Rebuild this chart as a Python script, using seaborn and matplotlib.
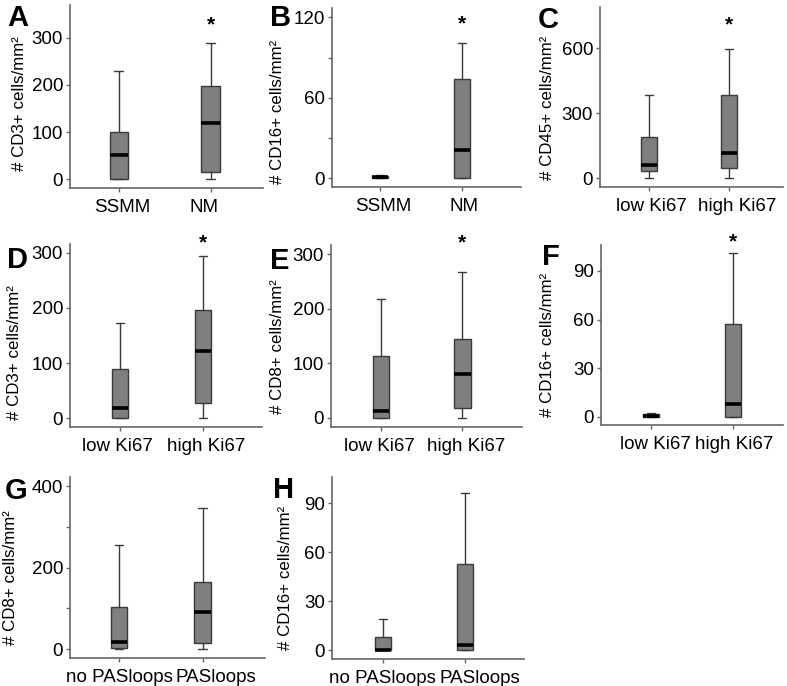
import pandas as pd
import seaborn as sns
import matplotlib.pyplot as plt
from matplotlib.transforms import ScaledTranslation

OUTPUT_PNG = "out.png"

# five-number summaries per group: min, q1, median, q3, max
GROUPS_NM = ["SSMM", "NM"]
GROUPS_KI = ["low Ki67", "high Ki67"]
GROUPS_PAS = ["no PASloops", "PASloops"]

A_SSMM = [0, 0, 52, 100, 230]
A_NM = [0, 16, 120, 197, 290]
B_SSMM = [0, 0, 0.5, 1.5, 2.5]
B_NM = [0, 0, 21, 74, 101]
C_LOW = [0, 31, 61, 190, 385]
C_HIGH = [0, 49, 115, 382, 594]
D_LOW = [0, 0, 19, 90, 173]
D_HIGH = [0, 28, 121, 196, 294]
E_LOW = [0, 0, 12, 114, 218]
E_HIGH = [0, 19, 80, 144, 267]
F_LOW = [0, 0, 0.5, 1.5, 2.5]
F_HIGH = [0, 0, 7.6, 57, 101]
G_LOW = [0, 2, 17, 103, 255]
G_HIGH = [0, 15, 92, 166, 348]
H_LOW = [0, 0, 0.3, 8, 18.7]
H_HIGH = [0, 0, 3, 53, 96]

LABELS = [
    "# CD3+ cells/mm²", "# CD16+ cells/mm²", "# CD45+ cells/mm²",
    "# CD3+ cells/mm²", "# CD8+ cells/mm²", "# CD16+ cells/mm²",
    "# CD8+ cells/mm²", "# CD16+ cells/mm²",
]
LETTERS = ["A", "B", "C", "D", "E", "F", "G", "H"]
SIGNIFICANT = [True, True, True, True, True, True, False, False]

# layout in pixels: axes box (left, top, right, bottom), xlim, ylim, ticks, minor ticks,
# star height, letter position, ylabel anchor (right edge, centre), x label shifts
W, H = 787, 686
PANELS = [
    (GROUPS_NM, A_SSMM, A_NM, (70, 5, 263, 188), (-0.53, 1.57), (-19, 370),
     [0, 100, 200, 300], [], 328, (7, 4), (27, 104), (4, -7)),
    (GROUPS_NM, B_SSMM, B_NM, (332, 8, 521, 187), (-0.59, 1.72), (-6.7, 127),
     [0, 60, 120], [30, 90], 115, (270, 4), (285, 112), (3, 2)),
    (GROUPS_KI, C_LOW, C_HIGH, (600, 7, 783, 187), (-0.61, 1.68), (-41, 790),
     [0, 300, 600], [], 706, (538, 6), (555, 108), (3, 9)),
    (GROUPS_KI, D_LOW, D_HIGH, (70, 244, 262, 427), (-0.60, 1.71), (-16, 316),
     [0, 100, 200, 300], [], 318, (7, 246), (22, 353), (-2, 3)),
    (GROUPS_KI, E_LOW, E_HIGH, (331, 245, 522, 427), (-0.61, 1.73), (-16.5, 317),
     [0, 100, 200, 300], [], 321, (270, 247), (285, 347), (-1, 4)),
    (GROUPS_KI, F_LOW, F_HIGH, (601, 245, 783, 425), (-0.61, 1.61), (-5.1, 106),
     [0, 30, 60, 90], [], 108, (542, 243), (555, 345), (4, 1)),
    (GROUPS_PAS, G_LOW, G_HIGH, (70, 477, 265, 658), (-0.59, 1.75), (-22, 423),
     [0, 200, 400], [100, 300], None, (5, 477), (18, 578), (0, 13)),
    (GROUPS_PAS, H_LOW, H_HIGH, (332, 477, 524, 659), (-0.62, 1.72), (-5.5, 106),
     [0, 30, 60, 90], [], None, (273, 476), (293, 578), (0, 15)),
]

AXIS_GREY = "#666666"
BOX_GREY = "#7f7f7f"
EDGE_GREY = "#3a3a3a"


def draw_panel(fig, spec, ylabel, letter, star):
    (groups, low, high, box, xlim, ylim, ticks, minor, star_y,
     letter_xy, ylab_xy, shifts) = spec
    left, top, right, bottom = box
    ax = fig.add_axes([left / W, 1 - bottom / H, (right - left) / W, (bottom - top) / H])

    df = pd.DataFrame({
        "group": [groups[0]] * len(low) + [groups[1]] * len(high),
        "value": low + high,
    })
    sns.boxplot(
        data=df, x="group", y="value", order=groups, ax=ax,
        color=BOX_GREY, saturation=1, linecolor=EDGE_GREY, linewidth=1.0,
        width=0.2, whis=(0, 100), showfliers=False,
        medianprops=dict(color="black", linewidth=2.6),
    )
    ax.set_xlim(*xlim)
    ax.set_ylim(*ylim)
    ax.set_yticks(ticks)
    ax.set_yticks(minor, minor=True)
    ax.set_xlabel("")
    ax.set_ylabel(ylabel, fontsize=12.2, color="black")
    ax.yaxis.set_label_coords((ylab_xy[0] - left) / (right - left),
                              (bottom - ylab_xy[1]) / (bottom - top))
    ax.tick_params(axis="both", which="both", labelsize=13.5, color=AXIS_GREY,
                   labelcolor="black", length=3, width=1)
    ax.tick_params(axis="x", pad=5)
    ax.tick_params(axis="y", pad=2)
    for side in ["top", "right"]:
        ax.spines[side].set_visible(False)
    for side in ["left", "bottom"]:
        ax.spines[side].set_color(AXIS_GREY)
        ax.spines[side].set_linewidth(1.2)

    # category labels sit slightly off-centre in the original figure
    for lab, dx in zip(ax.get_xticklabels(), shifts):
        lab.set_transform(lab.get_transform() + ScaledTranslation(dx / 100, 0, fig.dpi_scale_trans))

    if star and star_y is not None:
        ax.text(1, star_y, "*", ha="center", va="center", fontsize=15,
                fontweight="bold", color="black", clip_on=False)

    fig.text(letter_xy[0] / W, 1 - letter_xy[1] / H, letter, fontsize=21,
             fontweight="bold", ha="left", va="top", color="black")


def main() -> None:
    sns.set_style("ticks")
    plt.rcParams["font.family"] = ["Liberation Sans", "DejaVu Sans"]
    fig = plt.figure(figsize=(W / 100, H / 100), dpi=100)
    for spec, ylabel, letter, star in zip(PANELS, LABELS, LETTERS, SIGNIFICANT):
        draw_panel(fig, spec, ylabel, letter, star)
    fig.savefig(OUTPUT_PNG, dpi=100)


if __name__ == "__main__":
    main()
